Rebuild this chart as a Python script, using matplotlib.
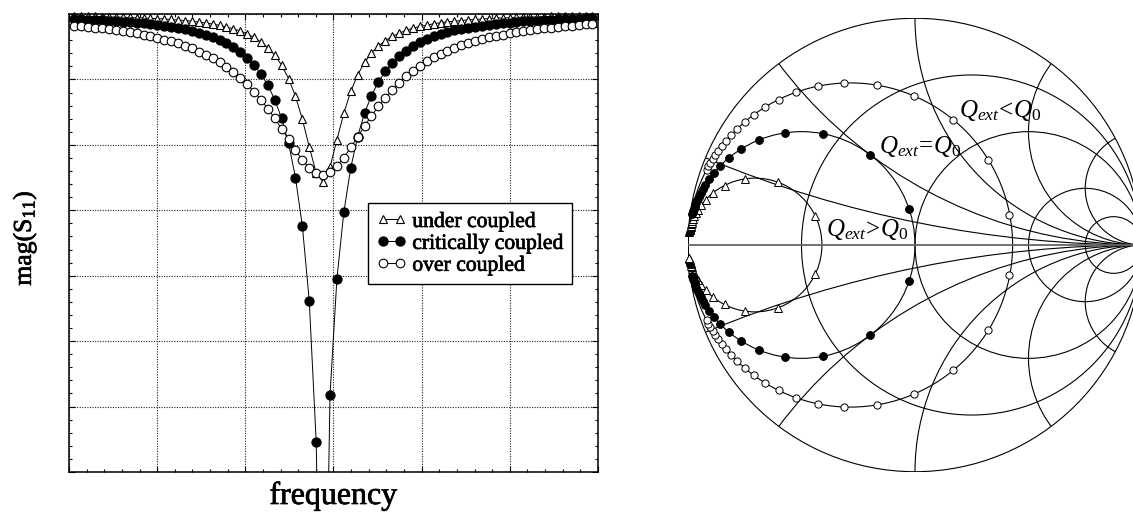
import numpy as np
import matplotlib
matplotlib.use("Agg")
import matplotlib.pyplot as plt
import matplotlib.patheffects as pe
from matplotlib.patches import Circle
from matplotlib.ticker import MultipleLocator
from matplotlib.transforms import Bbox, TransformedBbox

plt.rcParams.update({
    "font.family": ["Liberation Serif", "DejaVu Serif"],
    "mathtext.fontset": "custom",
    "mathtext.rm": "Liberation Serif",
    "mathtext.it": "Liberation Serif:italic",
    "mathtext.bf": "Liberation Serif:bold",
})

# ---------------------------------------------------------------- data
# reflection magnitude (dB) over a uniform frequency sweep
under_db = [
    -0.10, -0.10, -0.11, -0.11, -0.12, -0.13, -0.14, -0.15, -0.16, -0.17,
    -0.18, -0.20, -0.21, -0.23, -0.25, -0.28, -0.30, -0.33, -0.37, -0.41,
    -0.46, -0.52, -0.59, -0.68, -0.78, -0.91, -1.07, -1.28, -1.54, -1.89,
    -2.35, -2.96, -3.77, -4.83, -6.10, -7.28, -7.70, -7.02, -5.77, -4.55,
    -3.55, -2.79, -2.22, -1.79, -1.47, -1.22, -1.03, -0.88, -0.75, -0.65,
    -0.57, -0.51, -0.45, -0.40, -0.36, -0.33, -0.30, -0.27, -0.25, -0.23,
    -0.21, -0.19, -0.18, -0.17, -0.16, -0.14, -0.14, -0.13, -0.12, -0.11,
    -0.11, -0.10, -0.09, -0.09, -0.09, -0.08,
]
critical_db = [
    -0.23, -0.24, -0.26, -0.27, -0.29, -0.31, -0.33, -0.35, -0.37, -0.40,
    -0.43, -0.46, -0.50, -0.54, -0.59, -0.64, -0.70, -0.77, -0.85, -0.95,
    -1.06, -1.19, -1.34, -1.52, -1.74, -2.01, -2.34, -2.75, -3.26, -3.93,
    -4.79, -5.93, -7.50, -9.73, -13.17, -19.62, -36.48, -17.47, -12.14, -9.09,
    -7.06, -5.62, -4.55, -3.74, -3.12, -2.63, -2.25, -1.93, -1.68, -1.47,
    -1.30, -1.15, -1.03, -0.92, -0.83, -0.75, -0.69, -0.63, -0.58, -0.53,
    -0.49, -0.45, -0.42, -0.39, -0.37, -0.34, -0.32, -0.30, -0.28, -0.27,
    -0.25, -0.24, -0.23, -0.21, -0.20, -0.19,
]
over_db = [
    -0.53, -0.56, -0.59, -0.63, -0.66, -0.70, -0.74, -0.79, -0.84, -0.89,
    -0.95, -1.02, -1.09, -1.17, -1.26, -1.35, -1.46, -1.58, -1.72, -1.86,
    -2.03, -2.22, -2.43, -2.67, -2.93, -3.23, -3.56, -3.93, -4.34, -4.79,
    -5.26, -5.75, -6.24, -6.69, -7.06, -7.29, -7.36, -7.25, -6.98, -6.59,
    -6.12, -5.63, -5.14, -4.67, -4.24, -3.84, -3.48, -3.15, -2.86, -2.60,
    -2.37, -2.17, -1.99, -1.83, -1.68, -1.55, -1.43, -1.33, -1.23, -1.15,
    -1.07, -1.00, -0.94, -0.88, -0.82, -0.78, -0.73, -0.69, -0.65, -0.62,
    -0.59, -0.56, -0.53, -0.50, -0.48, -0.46,
]
f_start, f_stop = 0.062, 5.937
freq = np.linspace(f_start, f_stop, len(under_db))

series_labels = ["under coupled", "critically coupled", "over coupled"]

# reflection coefficient (re, im) on the Smith chart, below and above resonance
under_upper = [
    (-0.9942, 0.0582), (-0.9936, 0.0610), (-0.9930, 0.0640), (-0.9922, 0.0674),
    (-0.9913, 0.0711), (-0.9902, 0.0753), (-0.9889, 0.0800), (-0.9874, 0.0853),
    (-0.9855, 0.0913), (-0.9831, 0.0982), (-0.9802, 0.1062), (-0.9764, 0.1155),
    (-0.9714, 0.1266), (-0.9647, 0.1397), (-0.9554, 0.1557), (-0.9421, 0.1753),
    (-0.9222, 0.1994), (-0.8909, 0.2287), (-0.8391, 0.2623), (-0.7502, 0.2909),
    (-0.6045, 0.2763), (-0.4417, 0.1300),
]
under_lower = [
    (-0.4417, -0.1300), (-0.6045, -0.2763), (-0.7502, -0.2909), (-0.8391, -0.2623),
    (-0.8909, -0.2287), (-0.9222, -0.1994), (-0.9421, -0.1753), (-0.9554, -0.1557),
    (-0.9647, -0.1397), (-0.9714, -0.1266), (-0.9764, -0.1155), (-0.9802, -0.1062),
    (-0.9831, -0.0982), (-0.9855, -0.0913), (-0.9874, -0.0853), (-0.9889, -0.0800),
    (-0.9902, -0.0753), (-0.9913, -0.0711), (-0.9922, -0.0674), (-0.9930, -0.0640),
    (-0.9936, -0.0610), (-0.9942, -0.0582),
]
critical_upper = [
    (-0.9805, 0.1382), (-0.9786, 0.1447), (-0.9764, 0.1517), (-0.9739, 0.1595),
    (-0.9709, 0.1681), (-0.9674, 0.1777), (-0.9632, 0.1883), (-0.9582, 0.2002),
    (-0.9520, 0.2137), (-0.9445, 0.2290), (-0.9351, 0.2464), (-0.9231, 0.2664),
    (-0.9076, 0.2895), (-0.8872, 0.3163), (-0.8597, 0.3473), (-0.8215, 0.3830),
    (-0.7671, 0.4227), (-0.6880, 0.4633), (-0.5716, 0.4949), (-0.4050, 0.4909),
    (-0.1968, 0.3976), (-0.0265, 0.1606),
]
critical_lower = [
    (-0.0265, -0.1606), (-0.1968, -0.3976), (-0.4050, -0.4909), (-0.5716, -0.4949),
    (-0.6880, -0.4633), (-0.7671, -0.4227), (-0.8215, -0.3830), (-0.8597, -0.3473),
    (-0.8872, -0.3163), (-0.9076, -0.2895), (-0.9231, -0.2664), (-0.9351, -0.2464),
    (-0.9445, -0.2290), (-0.9520, -0.2137), (-0.9582, -0.2002), (-0.9632, -0.1883),
    (-0.9674, -0.1777), (-0.9709, -0.1681), (-0.9739, -0.1595), (-0.9764, -0.1517),
    (-0.9786, -0.1447), (-0.9805, -0.1382),
]
over_upper = [
    (-0.9181, 0.3322), (-0.9104, 0.3464), (-0.9016, 0.3617), (-0.8915, 0.3784),
    (-0.8799, 0.3965), (-0.8663, 0.4161), (-0.8503, 0.4375), (-0.8315, 0.4608),
    (-0.8090, 0.4862), (-0.7821, 0.5136), (-0.7495, 0.5432), (-0.7097, 0.5749),
    (-0.6606, 0.6080), (-0.5997, 0.6416), (-0.5238, 0.6734), (-0.4291, 0.6997),
    (-0.3118, 0.7138), (-0.1695, 0.7048), (-0.0049, 0.6568), (0.1688, 0.5510),
    (0.3227, 0.3741), (0.4160, 0.1335),
]
over_lower = [
    (0.4160, -0.1335), (0.3227, -0.3741), (0.1688, -0.5510), (-0.0049, -0.6568),
    (-0.1695, -0.7048), (-0.3118, -0.7138), (-0.4291, -0.6997), (-0.5238, -0.6734),
    (-0.5997, -0.6416), (-0.6606, -0.6080), (-0.7097, -0.5749), (-0.7495, -0.5432),
    (-0.7821, -0.5136), (-0.8090, -0.4862), (-0.8315, -0.4608), (-0.8503, -0.4375),
    (-0.8663, -0.4161), (-0.8799, -0.3965), (-0.8915, -0.3784), (-0.9016, -0.3617),
    (-0.9104, -0.3464), (-0.9181, -0.3322),
]
# reflection coefficient at resonance for each coupling case
gamma_res = [-0.41, 0.0, 0.43]

# Smith chart grid values
r_circles = [1 / 3, 1.0, 3.0, 7.0]
x_arcs = [0.2, 0.5, 1.0, 2.0, 4.0, -0.2, -0.5, -1.0, -2.0, -4.0]

smith_labels = [r"$Q_{ext}\!<\!Q_0$", r"$Q_{ext}\!=\!Q_0$", r"$Q_{ext}\!>\!Q_0$"]

# ---------------------------------------------------------------- figure
W, H = 1133, 512
fig = plt.figure(figsize=(W / 100, H / 100), dpi=100)
fig.patch.set_facecolor("white")
heavy = [pe.withStroke(linewidth=0.5, foreground="black")]

# ---------------- magnitude plot
ax = fig.add_axes([69 / W, 40 / H, 529 / W, 458 / H])
styles = [
    dict(marker="^", mfc="white", ms=6.2),
    dict(marker="o", mfc="black", ms=6.6),
    dict(marker="o", mfc="white", ms=6.2),
]
for vals, style, label in zip([under_db, critical_db, over_db], styles, series_labels):
    ln, = ax.plot(freq, vals, color="black", lw=0.7, mec="black", mew=0.8,
                  label=label, **style)
    ln.set_clip_box(TransformedBbox(Bbox([[0, 0], [1, 1.03]]), ax.transAxes))

ax.set_xlim(0, 6)
ax.set_ylim(-21, 0)
ax.xaxis.set_major_locator(MultipleLocator(1))
ax.xaxis.set_minor_locator(MultipleLocator(0.2))
ax.yaxis.set_major_locator(MultipleLocator(3))
ax.yaxis.set_minor_locator(MultipleLocator(0.6))
ax.tick_params(which="both", direction="in", top=True, right=True,
               labelbottom=False, labelleft=False, width=0.8, color="black")
ax.tick_params(which="major", length=4)
ax.tick_params(which="minor", length=2.5)
ax.grid(True, which="major", color="#222222", lw=0.8, ls=(0, (1.0, 1.3)))
for sp in ax.spines.values():
    sp.set_linewidth(1.1)
    sp.set_color("black")

leg = ax.legend(loc="upper left", bbox_to_anchor=(0.565, 0.587), borderaxespad=0,
                frameon=True, fancybox=False, edgecolor="black", framealpha=1,
                numpoints=2, handlelength=1.4, handletextpad=0.25,
                labelspacing=0.08, borderpad=0.4,
                prop={"family": "Liberation Serif", "size": 15.6})
leg.get_frame().set_linewidth(1.0)
for t in leg.get_texts():
    t.set_path_effects(heavy)

fig.text(333.5 / W, 8 / H, "frequency", ha="center", va="baseline",
         fontsize=23, path_effects=heavy)
fig.text(25 / W, (H - 238) / H, r"mag(S$_{11}$)", rotation=90,
         ha="center", va="center", fontsize=18.5, path_effects=heavy)

# ---------------- Smith chart
sax = fig.add_axes([688 / W, 40.3 / H, 454 / W, 453.4 / H])
sax.set_xlim(-1, 1)
sax.set_ylim(-1, 1)
sax.axis("off")

grid_kw = dict(fill=False, ec="black", lw=0.8)
outer = Circle((0, 0), 1, **grid_kw)
sax.add_patch(outer)
for r in r_circles:
    sax.add_patch(Circle((r / (1 + r), 0), 1 / (1 + r), **grid_kw))
for x in x_arcs:
    arc = Circle((1, 1 / x), 1 / abs(x), **grid_kw)
    sax.add_patch(arc)
    arc.set_clip_path(outer)
sax.plot([-1, 1], [0, 0], color="#666666", lw=1.3)

# locus of each coupling case
for g in gamma_res:
    sax.add_patch(Circle(((g - 1) / 2, 0), (1 + g) / 2, fill=False,
                         ec="black", lw=0.8))

smith_styles = [
    dict(marker="^", mfc="white", ms=5.2),
    dict(marker="o", mfc="black", ms=5.6),
    dict(marker="o", mfc="white", ms=5.2),
]
for pts_u, pts_l, style in zip([under_upper, critical_upper, over_upper],
                               [under_lower, critical_lower, over_lower],
                               smith_styles):
    pts = np.array(pts_u + pts_l)
    sax.plot(pts[:, 0], pts[:, 1], ls="none", mec="black", mew=0.7,
             clip_on=False, **style)

label_pos = [(0.195, 0.566), (-0.160, 0.404), (-0.393, 0.041)]
for txt, (u, v) in zip(smith_labels, label_pos):
    sax.text(u, v, txt, ha="left", va="baseline", fontsize=18)

fig.savefig("out.png", dpi=100)
